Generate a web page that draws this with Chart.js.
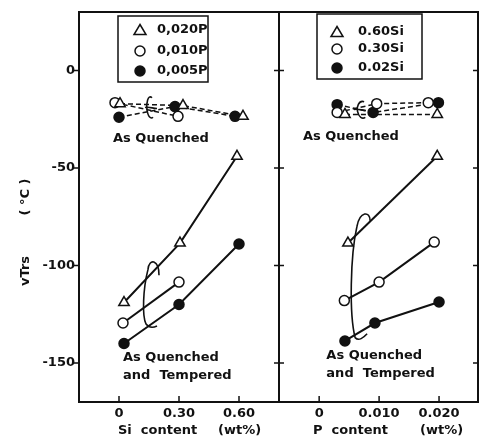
<!DOCTYPE html>
<html>
<head>
<meta charset="utf-8">
<script src="https://cdn.jsdelivr.net/npm/chart.js@4.4.1/dist/chart.umd.min.js"></script>
<style>
  body { margin: 0; background: #fff; }
  #wrap { position: relative; width: 490px; height: 442px; }
  canvas { position: absolute; top: 0; }
</style>
</head>
<body>
<div id="wrap">
  <canvas id="siChart" width="280" height="442" style="left:0"></canvas>
  <canvas id="pChart" width="212" height="442" style="left:278px"></canvas>
</div>
<script>
// tick values and labels
const yTicks = [0, -50, -100, -150];
const siTicks = [0, 0.3, 0.6];
const siTickLabels = ['0', '0.30', '0.60'];
const pTicks = [0, 0.01, 0.02];
const pTickLabels = ['0', '0.010', '0.020'];

const siLegend = ['0,020P', '0,010P', '0,005P'];
const pLegend = ['0.60Si', '0.30Si', '0.02Si'];

// Si content panel - as quenched
const siAqP020X = [0.005, 0.32, 0.62];
const siAqP020Y = [-17, -18, -23.5];
const siAqP010X = [-0.02, 0.295];
const siAqP010Y = [-16.5, -23.5];
const siAqP005X = [0, 0.28, 0.58];
const siAqP005Y = [-24, -18.5, -23.5];

// Si content panel - as quenched and tempered
const siQtP020X = [0.025, 0.305, 0.59];
const siQtP020Y = [-119, -88.5, -44];
const siQtP010X = [0.02, 0.30];
const siQtP010Y = [-129.5, -108.5];
const siQtP005X = [0.025, 0.30, 0.60];
const siQtP005Y = [-140, -120, -89];

// P content panel - as quenched
const pAqSi60X = [0.0043, 0.0197];
const pAqSi60Y = [-22.5, -22.5];
const pAqSi30X = [0.003, 0.0096, 0.0182];
const pAqSi30Y = [-21.5, -17, -16.5];
const pAqSi02X = [0.003, 0.009, 0.0199];
const pAqSi02Y = [-17.5, -21.5, -16.5];

// P content panel - as quenched and tempered
const pQtSi60X = [0.0048, 0.0197];
const pQtSi60Y = [-88.5, -44];
const pQtSi30X = [0.0042, 0.010, 0.0192];
const pQtSi30Y = [-118, -108.5, -88];
const pQtSi02X = [0.0043, 0.0093, 0.0200];
const pQtSi02Y = [-138.7, -129.5, -118.7];

const INK = '#111';
Chart.defaults.font.family = '"DejaVu Sans", sans-serif';
Chart.defaults.font.weight = 'bold';
Chart.defaults.font.size = 13;
Chart.defaults.color = INK;

function pts(xs, ys) {
  return xs.map((x, i) => ({ x: x, y: ys[i] }));
}

// marker: 'tri', 'open', 'dot'
function series(label, xs, ys, marker, dashed) {
  return {
    label: label,
    data: pts(xs, ys),
    showLine: true,
    borderColor: INK,
    borderWidth: dashed ? 1.5 : 2,
    borderDash: dashed ? [5, 3] : [],
    pointStyle: marker === 'tri' ? 'triangle' : 'circle',
    pointRadius: marker === 'tri' ? 6 : 5,
    pointBorderWidth: 1.5,
    pointBorderColor: INK,
    pointBackgroundColor: marker === 'dot' ? INK : '#fff',
    marker: marker
  };
}

function drawMarker(ctx, marker, x, y) {
  ctx.beginPath();
  if (marker === 'tri') {
    ctx.moveTo(x, y - 5.5);
    ctx.lineTo(x + 6, y + 4.5);
    ctx.lineTo(x - 6, y + 4.5);
    ctx.closePath();
  } else {
    ctx.arc(x, y, 5, 0, Math.PI * 2);
  }
  ctx.fillStyle = marker === 'dot' ? INK : '#fff';
  ctx.fill();
  ctx.lineWidth = 1.5;
  ctx.stroke();
}

// frame, inward ticks, legend box, notes and brace curves
const deco = {
  id: 'deco',
  afterDatasetsDraw(chart, args, o) {
    const { ctx, chartArea: a, scales: { x, y } } = chart;
    const px = v => x.getPixelForValue(v);
    const py = v => y.getPixelForValue(v);
    ctx.save();
    ctx.strokeStyle = INK;
    ctx.fillStyle = INK;

    // brace curves
    ctx.lineWidth = 1.6;
    o.curves.forEach(c => {
      ctx.beginPath();
      ctx.moveTo(px(c[0][0]), py(c[0][1]));
      for (let i = 1; i + 2 < c.length; i += 3) {
        ctx.bezierCurveTo(px(c[i][0]), py(c[i][1]), px(c[i + 1][0]), py(c[i + 1][1]), px(c[i + 2][0]), py(c[i + 2][1]));
      }
      ctx.stroke();
    });

    // frame
    ctx.lineWidth = 2;
    ctx.strokeRect(a.left, a.top, a.right - a.left, a.bottom - a.top);

    // ticks
    ctx.lineWidth = 1.5;
    ctx.beginPath();
    yTicks.forEach(v => {
      const yy = py(v);
      ctx.moveTo(a.left + o.leftTick[0], yy); ctx.lineTo(a.left + o.leftTick[1], yy);
      ctx.moveTo(a.right - 5, yy); ctx.lineTo(a.right, yy);
    });
    o.xTicks.forEach(v => {
      const xx = px(v);
      ctx.moveTo(xx, a.bottom); ctx.lineTo(xx, a.bottom - 6);
    });
    ctx.stroke();

    // legend box
    const lb = o.legend;
    ctx.lineWidth = 1.5;
    ctx.strokeRect(a.left + lb.x, a.top + lb.y, lb.w, lb.h);
    ctx.font = 'bold 13px "DejaVu Sans", sans-serif';
    ctx.textBaseline = 'middle';
    ctx.textAlign = 'left';
    o.legendNames.forEach((name, i) => {
      const ds = chart.data.datasets[i];
      const ry = a.top + lb.rows[i];
      ctx.strokeStyle = INK;
      drawMarker(ctx, ds.marker, a.left + lb.mx, ry);
      ctx.fillStyle = INK;
      ctx.fillText(name, a.left + lb.tx, ry);
    });

    // notes in data coordinates
    o.notes.forEach(n => {
      ctx.fillText(n.text, px(n.x), py(n.y));
    });

    // axis titles
    o.titles.forEach(t => {
      ctx.fillText(t.text, a.left + t.dx, a.bottom + 29);
    });
    if (o.yTitle) {
      o.yTitle.forEach(t => {
        ctx.save();
        ctx.translate(t.x, t.y);
        ctx.rotate(-Math.PI / 2);
        ctx.textAlign = 'center';
        ctx.fillText(t.text, 0, 0);
        ctx.restore();
      });
    }
    ctx.restore();
  }
};

function xScale(min, max, ticks, labels) {
  return {
    type: 'linear', min: min, max: max,
    grid: { display: false, drawTicks: false },
    border: { display: false },
    afterBuildTicks: s => { s.ticks = ticks.map(v => ({ value: v })); },
    afterFit: s => { s.height = 40; },
    ticks: { padding: 4, maxRotation: 0, callback: (v, i) => labels[i] }
  };
}

// nudge layout padding until the plot area sits where the frame should be
function fitArea(chart, left, right) {
  for (let k = 0; k < 3; k++) {
    const a = chart.chartArea;
    const p = chart.options.layout.padding;
    const dl = left - a.left, dr = a.right - right;
    if (Math.abs(dl) < 0.5 && Math.abs(dr) < 0.5) break;
    p.left += dl;
    p.right += dr;
    chart.update();
  }
}

const siChart = new Chart(document.getElementById('siChart'), {
  type: 'scatter',
  data: {
    datasets: [
      series(siLegend[0], siAqP020X, siAqP020Y, 'tri', true),
      series(siLegend[1], siAqP010X, siAqP010Y, 'open', true),
      series(siLegend[2], siAqP005X, siAqP005Y, 'dot', true),
      series('QT ' + siLegend[0], siQtP020X, siQtP020Y, 'tri', false),
      series('QT ' + siLegend[1], siQtP010X, siQtP010Y, 'open', false),
      series('QT ' + siLegend[2], siQtP005X, siQtP005Y, 'dot', false)
    ]
  },
  options: {
    responsive: false,
    animation: false,
    layout: { autoPadding: false, padding: { top: 12, right: 1, left: 0, bottom: 0 } },
    scales: {
      x: xScale(-0.2, 0.8, siTicks, siTickLabels),
      y: {
        type: 'linear', min: -170, max: 30,
        grid: { display: false, drawTicks: false },
        border: { display: false },
        afterBuildTicks: s => { s.ticks = yTicks.map(v => ({ value: v })); },
        afterFit: s => { s.width = 79; },
        ticks: { padding: 4, callback: v => String(v) }
      }
    },
    plugins: {
      legend: { display: false },
      tooltip: { enabled: false },
      deco: {
        leftTick: [-5, 0],
        xTicks: siTicks,
        legend: { x: 39, y: 4, w: 90, h: 66, mx: 61, tx: 78, rows: [18, 39, 59] },
        legendNames: siLegend,
        notes: [
          { text: 'As Quenched', x: -0.03, y: -35 },
          { text: 'As Quenched', x: 0.02, y: -147 },
          { text: 'and  Tempered', x: 0.02, y: -156.5 }
        ],
        titles: [
          { text: 'Si  content', dx: 39 },
          { text: '(wt%)', dx: 139 }
        ],
        yTitle: [
          { text: 'vTrs', x: 26, y: 271 },
          { text: '( °C )', x: 26, y: 197 }
        ],
        curves: [
          [[0.165, -14], [0.145, -12], [0.135, -17], [0.14, -20],
           [0.145, -24], [0.16, -25], [0.17, -24]],
          [[0.13, -19], [0.15, -18.5], [0.17, -19.5], [0.19, -19.5]],
          [[0.2, -105], [0.2, -97], [0.15, -96], [0.145, -102],
           [0.12, -112], [0.115, -126], [0.135, -130],
           [0.15, -132], [0.17, -132], [0.19, -131]]
        ]
      }
    }
  },
  plugins: [deco]
});
fitArea(siChart, 79, 279);

const pChart = new Chart(document.getElementById('pChart'), {
  type: 'scatter',
  data: {
    datasets: [
      series(pLegend[0], pAqSi60X, pAqSi60Y, 'tri', true),
      series(pLegend[1], pAqSi30X, pAqSi30Y, 'open', true),
      series(pLegend[2], pAqSi02X, pAqSi02Y, 'dot', true),
      series('QT ' + pLegend[0], pQtSi60X, pQtSi60Y, 'tri', false),
      series('QT ' + pLegend[1], pQtSi30X, pQtSi30Y, 'open', false),
      series('QT ' + pLegend[2], pQtSi02X, pQtSi02Y, 'dot', false)
    ]
  },
  options: {
    responsive: false,
    animation: false,
    layout: { autoPadding: false, padding: { top: 12, right: 12, left: 1, bottom: 0 } },
    scales: {
      x: xScale(-0.0067, 0.0265, pTicks, pTickLabels),
      y: { type: 'linear', min: -170, max: 30, display: false }
    },
    plugins: {
      legend: { display: false },
      tooltip: { enabled: false },
      deco: {
        leftTick: [0, 5],
        xTicks: pTicks,
        legend: { x: 38, y: 2, w: 105, h: 65, mx: 58, tx: 79, rows: [20, 37, 56] },
        legendNames: pLegend,
        notes: [
          { text: 'As Quenched', x: -0.0027, y: -34 },
          { text: 'As Quenched', x: 0.0012, y: -146.4 },
          { text: 'and  Tempered', x: 0.0012, y: -155.6 }
        ],
        titles: [
          { text: 'P  content', dx: 34 },
          { text: '(wt%)', dx: 141 }
        ],
        curves: [
          [[0.0075, -16], [0.0066, -15], [0.0062, -19], [0.0064, -21],
           [0.0066, -24], [0.0072, -25], [0.0077, -24]],
          [[0.0058, -20], [0.0065, -19.5], [0.0072, -20.5], [0.0078, -20.5]],
          [[0.0085, -77], [0.0085, -72], [0.0068, -72], [0.0063, -80],
           [0.0052, -95], [0.0050, -125], [0.006, -137],
           [0.0066, -139], [0.0074, -137], [0.008, -135]]
        ]
      }
    }
  },
  plugins: [deco]
});
fitArea(pChart, 1, 200);
</script>
</body>
</html>
